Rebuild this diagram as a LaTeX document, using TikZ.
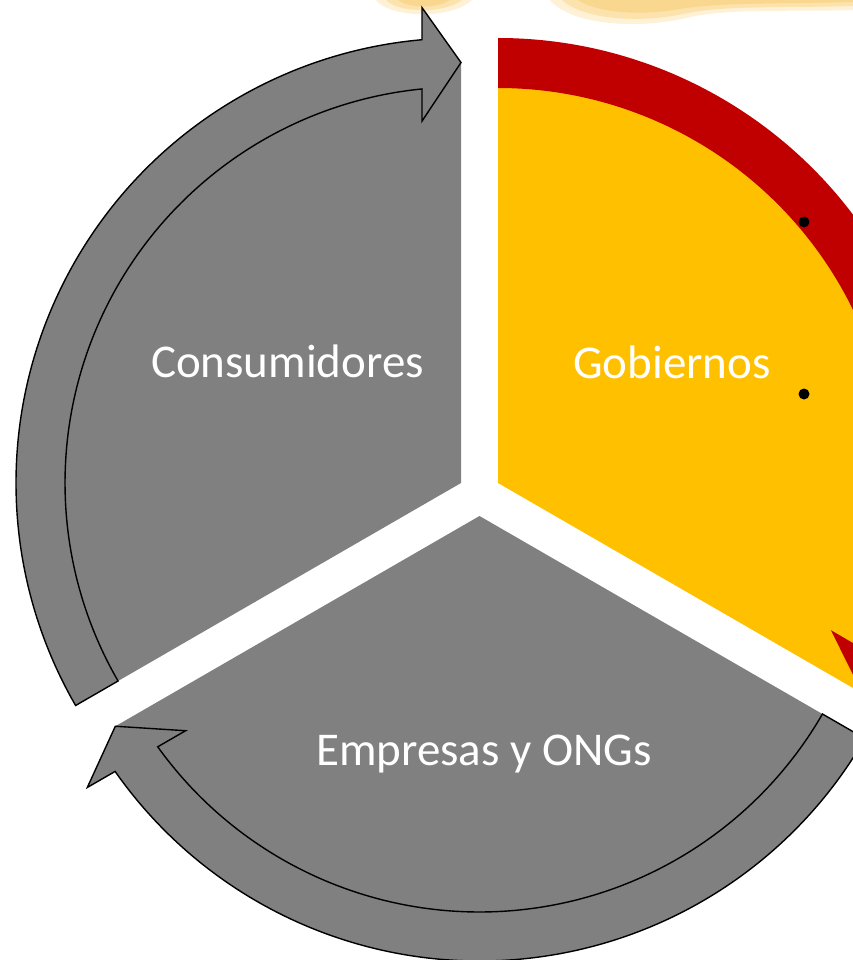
\documentclass[tikz,border=0pt]{standalone}
\usepackage{fontspec}
\setmainfont{Carlito}
\definecolor{grayseg}{HTML}{808080}
\definecolor{goldseg}{HTML}{FFC000}
\definecolor{redarc}{HTML}{C00000}
\definecolor{glowout}{HTML}{FEF1D6}
\definecolor{glowmid}{HTML}{FCE2AC}
\definecolor{glowin}{HTML}{FAD78E}
\begin{document}
\begin{tikzpicture}[x=1pt,y=1pt,
  seg/.style={fill=grayseg},
  hiseg/.style={fill=goldseg},
  cyclearrow/.style={fill=grayseg, draw=black, line width=1.4pt, line join=miter},
  hiarrow/.style={fill=redarc},
  lbl/.style={text=white, font=\fontsize{47}{56}\selectfont, anchor=base, inner sep=0pt},
  dotmark/.style={circle, fill=black, inner sep=0pt, minimum size=11pt}]
\clip (0,0) rectangle (853,-960);
\fill[white] (0,0) rectangle (853,-960);
% soft glow at the top
\fill[glowout] (376,0) .. controls (390,-18) and (450,-20) .. (472,0) -- cycle;
\fill[glowmid] (386,0) .. controls (398,-13) and (444,-14) .. (462,0) -- cycle;
\fill[glowin] (398,0) .. controls (408,-8) and (436,-9) .. (450,0) -- cycle;
\fill[glowout] (550,0) .. controls (572,-26) and (640,-29) .. (686,-18) .. controls (726,-8) and (790,-12) .. (853,-10) -- (853,0) -- cycle;
\fill[glowmid] (562,0) .. controls (584,-20) and (640,-23) .. (683,-14) .. controls (722,-5) and (790,-8) .. (853,-6) -- (853,0) -- cycle;
\fill[glowin] (578,0) .. controls (598,-13) and (640,-16) .. (680,-9) .. controls (720,-2) and (790,-4) .. (853,-2) -- (853,0) -- cycle;
% centres of the three segments
\coordinate (cC) at (461,-483);
\coordinate (cG) at (498,-483);
\coordinate (cE) at (479.5,-516);
% sectors
\fill[seg] (cC) -- ([shift={(cC)}]90:420.5) arc[start angle=90,end angle=210,radius=420.5] -- cycle;
\fill[hiseg] (cG) -- ([shift={(cG)}]-30:420.5) arc[start angle=-30,end angle=90,radius=420.5] -- cycle;
\fill[seg] (cE) -- ([shift={(cE)}]210:420.5) arc[start angle=210,end angle=330,radius=420.5] -- cycle;
% circular arrows
\draw[cyclearrow] ([shift={(cC)}]210:445) arc[start angle=210,end angle=95.03,radius=445]
  -- ([shift={(cC)}]94.69:477) -- ([shift={(cC)}]90:420.5) -- ([shift={(cC)}]96.15:364)
  -- ([shift={(cC)}]95.65:396) arc[start angle=95.65,end angle=210,radius=396] -- cycle;
\draw[cyclearrow] ([shift={(cE)}]330:445) arc[start angle=330,end angle=215.03,radius=445]
  -- ([shift={(cE)}]214.69:477) -- ([shift={(cE)}]210:420.5) -- ([shift={(cE)}]216.15:364)
  -- ([shift={(cE)}]215.65:396) arc[start angle=215.65,end angle=330,radius=396] -- cycle;
\fill[hiarrow] ([shift={(cG)}]90:445) arc[start angle=90,end angle=-24.97,radius=445]
  -- ([shift={(cG)}]-25.31:477) -- ([shift={(cG)}]-30:420.5) -- ([shift={(cG)}]-23.85:364)
  -- ([shift={(cG)}]-24.35:395) arc[start angle=-24.35,end angle=90,radius=395] -- cycle;
% labels
\node[lbl] (consumidores) at (287.5,-377) {Consumidores};
\node[lbl] (gobiernos) at (672,-378) {Gobiernos};
\node[lbl] (empresas) at (484,-765) {Empresas y ONGs};
% bullet dots
\node[dotmark] (dot1) at (804,-222) {};
\node[dotmark] (dot2) at (804,-394) {};
\end{tikzpicture}
\end{document}
